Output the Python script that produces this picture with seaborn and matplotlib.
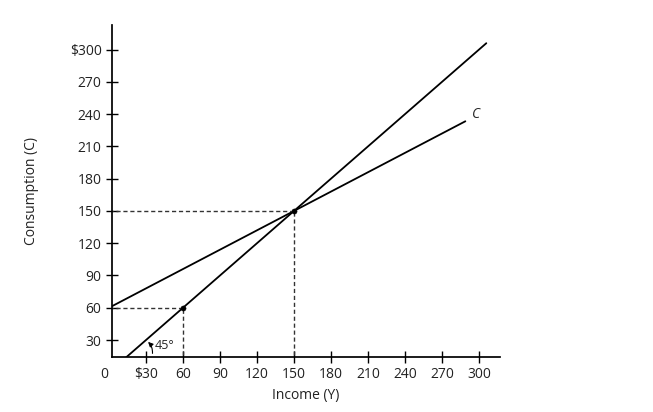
import numpy as np
import matplotlib
matplotlib.use("Agg")
import matplotlib.pyplot as plt
import seaborn as sns

sns.set_theme(style="white")
plt.rcParams["font.family"] = ["Open Sans", "DejaVu Sans"]

income = [6, 306]
line45 = [6, 306]
cons_income = [2.4, 289]
cons = [60 + 0.6 * 2.4, 60 + 0.6 * 289]
points_x = [60, 150]
points_y = [60, 150]
xticks = [30, 60, 90, 120, 150, 180, 210, 240, 270, 300]
xlabels = ["$30", "60", "90", "120", "150", "180", "210", "240", "270", "300"]
yticks = [30, 60, 90, 120, 150, 180, 210, 240, 270, 300]
ylabels = ["30", "60", "90", "120", "150", "180", "210", "240", "270", "$300"]

fig = plt.figure(figsize=(6.53, 4.12), dpi=100)
ax = fig.add_axes([0.1715, 0.1335, 0.594, 0.806])
sns.lineplot(x=income, y=line45, ax=ax, color="black", lw=1.3)
sns.lineplot(x=cons_income, y=cons, ax=ax, color="black", lw=1.3)
for px, py in zip(points_x, points_y):
    ax.plot([0, px], [py, py], ls=(0, (3, 2)), color="#333333", lw=1)
    ax.plot([px, px], [10, py], ls=(0, (3, 2)), color="#333333", lw=1)
sns.scatterplot(x=points_x, y=points_y, ax=ax, color="black", s=14, zorder=5, edgecolor="black")

ax.set_xlim(2.4, 317)
ax.set_ylim(14.2, 323)
ax.set_xticks(xticks, xlabels)
ax.set_yticks(yticks, ylabels)
ax.tick_params(bottom=True, left=True, direction="inout", length=8, width=1,
               colors="black", labelsize=10, labelcolor="#222222")
ax.text(-0.01, -0.03, "0", transform=ax.transAxes, ha="right", va="top", fontsize=10, color="#222222")
for s in ["top", "right"]:
    ax.spines[s].set_visible(False)
for s in ["left", "bottom"]:
    ax.spines[s].set_color("black")
ax.set_xlabel("Income (Y)", fontsize=10, color="#222222")
ax.set_ylabel("Consumption (C)", fontsize=10, color="#222222", labelpad=22)
ax.text(294, 236, "C", fontsize=10, style="italic")
ax.text(37, 22, "45°", fontsize=9)
ax.annotate("", xy=(30, 30), xytext=(35, 15),
            arrowprops=dict(arrowstyle="-|>", color="black", lw=0.8,
                            connectionstyle="arc3,rad=0.3", mutation_scale=7))
fig.savefig("out.png", dpi=100)
